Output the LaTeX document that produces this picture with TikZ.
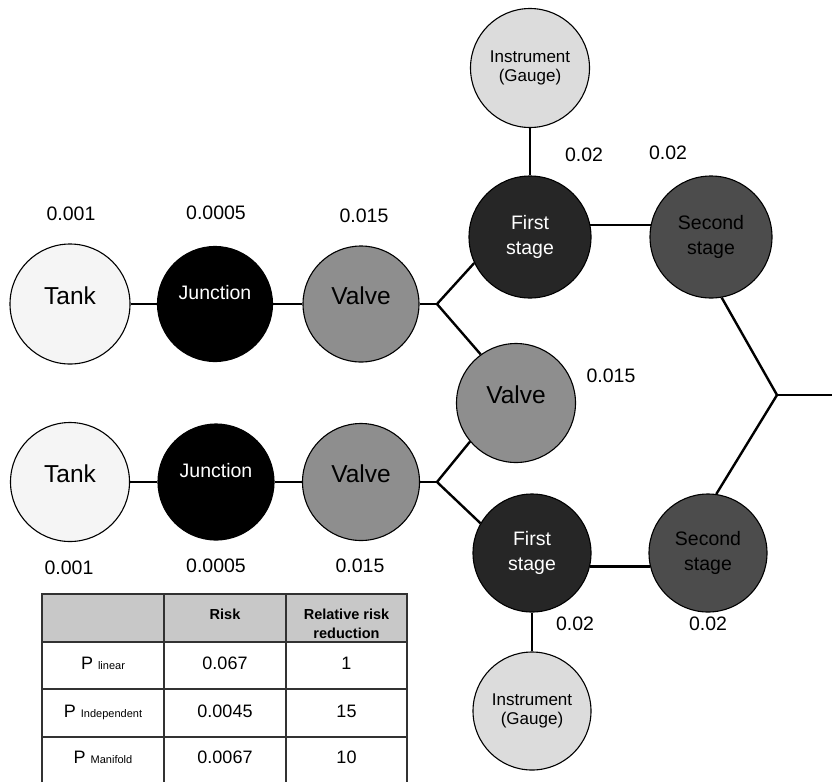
\documentclass[tikz,border=0pt]{standalone}
\usepackage{fontspec}
\setmainfont{Liberation Sans}
\definecolor{tankc}{RGB}{245,245,245}
\definecolor{juncc}{RGB}{0,0,0}
\definecolor{valvec}{RGB}{142,142,142}
\definecolor{firstc}{RGB}{38,38,38}
\definecolor{secondc}{RGB}{76,76,76}
\definecolor{instc}{RGB}{220,220,220}
\definecolor{hdrc}{RGB}{200,200,200}
\definecolor{tblc}{RGB}{50,50,50}
\begin{document}
\begin{tikzpicture}[x=1pt,y=-1pt,
  comp/.style={circle,draw=black,line width=1.1pt,inner sep=0pt,align=center},
  bigtxt/.style={font=\fontsize{24.5}{26}\selectfont,text height=12pt,text depth=12pt},
  juntxt/.style={font=\fontsize{19.5}{21}\selectfont,text height=8pt,text depth=18pt,text=white},
  stagetxt/.style={font=\fontsize{19.5}{24.5}\selectfont},
  insttxt/.style={font=\fontsize{17}{18.5}\selectfont},
  conn/.style={line width=2.4pt,black},
  num/.style={font=\fontsize{19.5}{21}\selectfont,inner sep=0pt},
  cell/.style={font=\fontsize{18}{20}\selectfont,inner sep=0pt,anchor=base},
  hcell/.style={font=\bfseries\fontsize{14.5}{19}\selectfont,inner sep=0pt,anchor=base,align=center},
  tbl/.style={line width=1.5pt,tblc}]
\useasboundingbox (0,0) rectangle (832,782);
\fill[white] (0,0) rectangle (832,782);

% upper chain
\node[comp,bigtxt,minimum size=120pt,fill=tankc] (t1) at (70,304) {Tank};
\node[comp,juntxt,minimum size=115pt,fill=juncc] (j1) at (215,304) {Junction};
\node[comp,bigtxt,minimum size=116pt,fill=valvec] (v1) at (361,304) {Valve};
\coordinate (b1) at (437,304);

% lower chain
\node[comp,bigtxt,minimum size=119pt,fill=tankc] (t2) at (70,482) {Tank};
\node[comp,juntxt,minimum size=116pt,fill=juncc] (j2) at (216,482) {Junction};
\node[comp,bigtxt,minimum size=117pt,fill=valvec] (v2) at (361,482) {Valve};
\coordinate (b2) at (437,482);

% middle valve
\node[comp,bigtxt,minimum size=119pt,fill=valvec] (vm) at (516,403) {Valve};

% stages
\node[comp,stagetxt,minimum size=122pt,fill=firstc,text=white] (fs1) at (530,237) {First\\stage};
\node[comp,stagetxt,minimum size=122pt,fill=secondc,text=black] (ss1) at (711,237) {Second\\stage};
\node[comp,stagetxt,minimum size=118pt,fill=firstc,text=white] (fs2) at (532,553) {First\\stage};
\node[comp,stagetxt,minimum size=118pt,fill=secondc,text=black] (ss2) at (708,553) {Second\\stage};
\coordinate (b3) at (777,395);
\coordinate (out) at (832,395);

% instruments
\node[comp,insttxt,minimum size=119pt,fill=instc] (ig1) at (530,68) {Instrument\\(Gauge)};
\node[comp,insttxt,minimum size=118pt,fill=instc] (ig2) at (532,711) {Instrument\\(Gauge)};

% connectors
\draw[conn] (t1) -- (j1);
\draw[conn] (j1) -- (v1);
\draw[conn] (v1) -- (b1);
\draw[conn] (b1) -- (fs1.205);
\draw[conn] (b1) -- (vm.126);
\draw[conn] (t2) -- (j2);
\draw[conn] (j2) -- (v2);
\draw[conn] (v2) -- (b2);
\draw[conn] (b2) -- (vm.220);
\draw[conn] (b2) -- (fs2.150);
\draw[conn] (fs1.11) -- (ss1.169);
\draw[conn] (fs2.-13) -- (ss2.193);
\draw[conn] (ss1.280) -- (b3);
\draw[conn] (ss2.82) -- (b3);
\draw[conn] (b3) -- (out);
\draw[conn] (ig1) -- (fs1);
\draw[conn] (ig2) -- (fs2);

% probability labels
\node[num] (p1) at (71,214) {0.001};
\node[num] (p2) at (216,213) {0.0005};
\node[num] (p3) at (364,216) {0.015};
\node[num] (p4) at (584,155) {0.02};
\node[num] (p5) at (668,153) {0.02};
\node[num] (p6) at (611,376) {0.015};
\node[num] (p7) at (69,568) {0.001};
\node[num] (p8) at (216,566) {0.0005};
\node[num] (p9) at (360,566) {0.015};
\node[num] (p10) at (575,623.5) {0.02};
\node[num] (p11) at (708,623.5) {0.02};

% table
\fill[hdrc] (42,594) rectangle (407,642);
\draw[tbl] (42,782) -- (42,594) -- (407,594) -- (407,782);
\draw[tbl] (164,594) -- (164,782);
\draw[tbl] (286,594) -- (286,782);
\draw[tbl] (42,642) -- (407,642);
\draw[tbl] (42,689) -- (407,689);
\draw[tbl] (42,737) -- (407,737);

\node[hcell] (hr) at (225,619) {Risk};
\node[hcell] (hrr) at (346.5,638) {Relative risk\\reduction};

\node[cell] (r1a) at (103,669) {P {\fontsize{11}{12}\selectfont linear}};
\node[cell] (r1b) at (225,669) {0.067};
\node[cell] (r1c) at (346.5,669) {1};
\node[cell] (r2a) at (103,717) {P {\fontsize{11}{12}\selectfont Independent}};
\node[cell] (r2b) at (225,717) {0.0045};
\node[cell] (r2c) at (346.5,717) {15};
\node[cell] (r3a) at (103,763) {P {\fontsize{11}{12}\selectfont Manifold}};
\node[cell] (r3b) at (225,763) {0.0067};
\node[cell] (r3c) at (346.5,763) {10};
\end{tikzpicture}
\end{document}
